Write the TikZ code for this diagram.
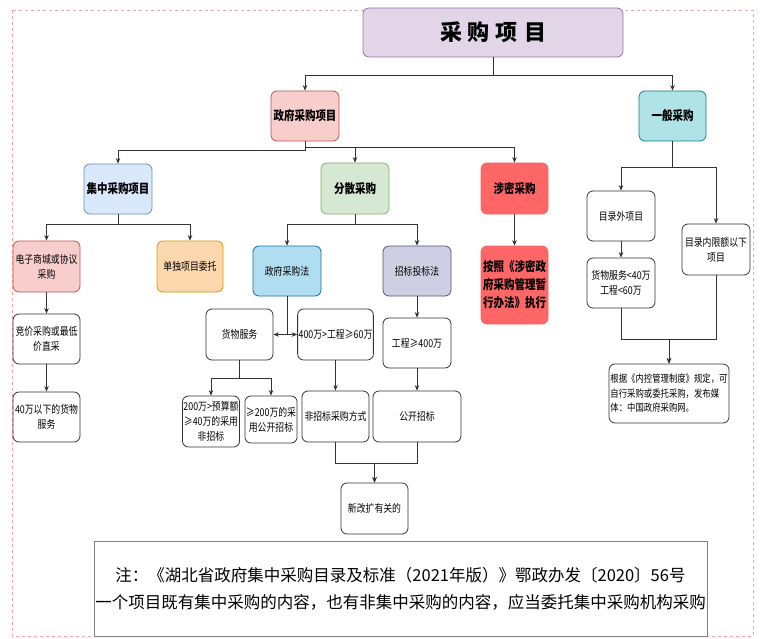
\documentclass[tikz,border=0pt]{standalone}
\usepackage{fontspec}
\setmainfont{Noto Sans CJK SC}[FakeStretch=0.82]
\newfontfamily\plainfont{Noto Sans CJK SC}
\usetikzlibrary{arrows.meta}
\definecolor{tfill}{HTML}{E1D5E7}\definecolor{tdraw}{HTML}{9673A6}
\definecolor{rfill}{HTML}{F8CECC}\definecolor{rdraw}{HTML}{B85450}
\definecolor{cfill}{HTML}{B0E3E6}\definecolor{cdraw}{HTML}{0E8088}
\definecolor{bfill}{HTML}{DAE8FC}\definecolor{bdraw}{HTML}{6C8EBF}
\definecolor{gfill}{HTML}{D5E8D4}\definecolor{gdraw}{HTML}{82B366}
\definecolor{sfill}{HTML}{FF6666}\definecolor{sdraw}{HTML}{EA6B66}
\definecolor{ofill}{HTML}{FAD7AC}\definecolor{odraw}{HTML}{D79B00}
\definecolor{lfill}{HTML}{B1DDF0}\definecolor{ldraw}{HTML}{10739E}
\definecolor{pfill}{HTML}{D0CEE2}\definecolor{pdraw}{HTML}{56517E}
\definecolor{frame}{HTML}{F4A3A3}
\definecolor{edge}{HTML}{333333}
\begin{document}
\begin{tikzpicture}[x=1pt,y=-1pt,
  box/.style={draw=edge, fill=white, rounded corners=6pt, line width=0.8pt, align=center,
    inner sep=1pt, font=\fontsize{10.8}{15}\selectfont},
  bold/.style={box, font=\fontsize{12.8}{18}\selectfont\bfseries},
  sz/.style 2 args={minimum width=#1, minimum height=#2},
  arr/.style={draw=edge, line width=0.7pt, -{Stealth[length=5.5pt,width=4.5pt]}},
  ln/.style={draw=edge, line width=0.7pt}]
\useasboundingbox (0,0) rectangle (765,639);
% outer frame
\draw[frame, line width=0.9pt, dash pattern=on 3pt off 3pt] (12,10) rectangle (753,636);
% title
\node[box, fill=tfill, draw=tdraw, sz={260pt}{49pt}, font=\plainfont\fontsize{22}{26}\selectfont\bfseries]
  (title) at (493,32.5) {采\hspace{6pt}购\hspace{6pt}项\hspace{6pt}目};
% level 1
\node[bold, fill=rfill, draw=rdraw, sz={68pt}{50pt}] (gov) at (305,116) {政府采购项目};
\node[bold, fill=cfill, draw=cdraw, sz={67pt}{50pt}] (gen) at (672.5,116) {一般采购};
% level 2
\node[bold, fill=bfill, draw=bdraw, sz={68pt}{50pt}] (jz) at (118,189) {集中采购项目};
\node[bold, fill=gfill, draw=gdraw, sz={68pt}{51pt}] (fs) at (355,188.5) {分散采购};
\node[bold, fill=sfill, draw=sdraw, sz={67pt}{51pt}] (sm) at (514.5,188.5) {涉密采购};
\node[bold, fill=sfill, draw=sdraw, sz={67pt}{78pt}] (smr) at (514.5,285) {按照《涉密政\\府采购管理暂\\行办法》执行};
% 集中
\node[box, fill=rfill, draw=rdraw, sz={67pt}{51pt}] (dz) at (46.5,266.5) {电子商城或协议\\采购};
\node[box, fill=ofill, draw=odraw, sz={66pt}{51pt}] (dd) at (190,266.5) {单独项目委托};
\node[box, sz={67pt}{50pt}] (jj) at (46.5,339) {竞价采购或最低\\价直采};
\node[box, sz={67pt}{50pt}] (s40) at (46.5,417) {40万以下的货物\\服务};
% 分散
\node[box, fill=lfill, draw=ldraw, sz={68pt}{50pt}] (zfl) at (287,271) {政府采购法};
\node[box, fill=pfill, draw=pdraw, sz={68pt}{50pt}] (ztl) at (417,271) {招标投标法};
\node[box, sz={67pt}{51pt}] (hw) at (239.5,334.5) {货物服务};
\node[box, sz={73pt}{51pt}] (gc60) at (335.5,334.5) {400万>工程≥60万};
\node[box, sz={56pt}{51pt}] (ya) at (211,421.5) {200万>预算额\\≥40万的采用\\非招标};
\node[box, sz={50pt}{47pt}] (yb) at (271,419.5) {≥200万的采\\用公开招标};
\node[box, sz={67pt}{51pt}] (fzb) at (335.5,416.5) {非招标采购方式};
\node[box, sz={68pt}{50pt}] (gc400) at (417,343) {工程≥400万};
\node[box, sz={88pt}{51pt}] (gkzb) at (417,416.5) {公开招标};
\node[box, sz={67pt}{51pt}] (xgk) at (374.5,508.5) {新改扩有关的};
% 一般
\node[box, sz={68pt}{50pt}] (mlw) at (621,216) {目录外项目};
\node[box, sz={68pt}{50pt}] (hw40) at (621,283) {货物服务<40万\\工程<60万};
\node[box, sz={68pt}{51pt}] (mln) at (716,249.5) {目录内限额以下\\项目};
\node[box, sz={120pt}{59pt}, align=left, font=\fontsize{10.2}{14.5}\selectfont] (gj) at (669,393.5)
  {根据《内控管理制度》规定，可\\自行采购或委托采购，发布媒\\体：中国政府采购网。};
% note
\node[draw=gray, line width=0.8pt, fill=white, sz={613pt}{95pt}, align=center, inner sep=0pt,
  font=\plainfont\fontsize{16.5}{27}\selectfont] (note) at (400.5,588.5)
  {注：《湖北省政府集中采购目录及标准（2021年版）》鄂政办发〔2020〕56号\\
   一个项目既有集中采购的内容，也有非集中采购的内容，应当委托集中采购机构采购};
% connectors
\draw[arr] (title.south) -- ++(0,18) -| (gov.north);
\draw[arr] (title.south) -- ++(0,18) -| (gen.north);
\draw[arr] (gov.south) -- ++(0,9) -| (jz.north);
\draw[arr] (gov.south) -- ++(0,6) -| (fs.north);
\draw[arr] (gov.south) -- ++(0,6) -| (sm.north);
\draw[arr] (sm) -- (smr);
\draw[arr] (jz.south) -- ++(0,10) -| (dz.north);
\draw[arr] (jz.south) -- ++(0,10) -| (dd.north);
\draw[arr] (dz) -- (jj);
\draw[arr] (jj) -- (s40);
\draw[arr] (fs.south) -- ++(0,10) -| (zfl.north);
\draw[arr] (fs.south) -- ++(0,10) -| (ztl.north);
\draw[arr] (zfl.south) |- (hw.east);
\draw[arr] (zfl.south) |- (gc60.west);
\draw[arr] (hw.south) -- ++(0,18) -| (ya.north);
\draw[arr] (hw.south) -- ++(0,18) -| (yb.north);
\draw[arr] (gc60) -- (fzb);
\draw[arr] (ztl) -- (gc400);
\draw[arr] (gc400) -- (gkzb);
\draw[arr] (fzb.south) -- ++(0,21) -| (xgk.north);
\draw[arr] (gkzb.south) -- ++(0,21) -| (xgk.north);
\draw[arr] (gen.south) -- ++(0,26) -| (mlw.north);
\draw[arr] (gen.south) -- ++(0,26) -| (mln.north);
\draw[arr] (mlw) -- (hw40);
\draw[arr] (hw40.south) -- ++(0,31) -| (gj.north);
\draw[arr] (mln.south) -- ++(0,64) -| (gj.north);
\end{tikzpicture}
\end{document}
